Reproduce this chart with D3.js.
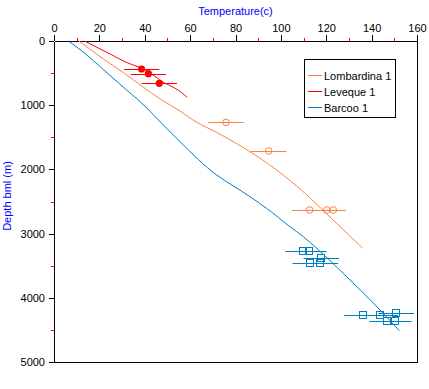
<!DOCTYPE html>
<html>
<head>
<meta charset="utf-8">
<script src="https://cdn.jsdelivr.net/npm/d3@7"></script>
<style>
  body { margin: 0; background: #fff; }
  svg { font-family: "Liberation Sans", Arial, sans-serif; }
  .axis path, .axis line { stroke: #000; shape-rendering: crispEdges; }
  .minor line { stroke: #ff0000; }
  .minor path { display: none; }
</style>
</head>
<body>
<svg id="chart" width="429" height="389"></svg>
<script>
// well names and colours
var wells = ["Lombardina 1", "Leveque 1", "Barcoo 1"];
var wellColors = ["#ff8040", "#ff0000", "#0080c0"];

// modelled temperature profiles: temperature (C), depth (m)
var lombardinaTemp = [11, 22, 31, 47.3, 55.5, 63, 72, 86.4, 101, 108, 117.2, 125, 134.9, 136.1];
var lombardinaDepth = [0, 285, 503, 914, 1090, 1267, 1430, 1724, 2087, 2290, 2591, 2855, 3188, 3229];

var levequeTemp = [13.5, 25.3, 32.6, 38.5, 44.4, 48.8, 53.2, 58.7];
var levequeDepth = [0, 213, 343, 421, 550, 654, 732, 877];

var barcooTemp = [6.3, 10.6, 23.8, 32, 37, 50, 57, 71.7, 86.4, 93.7, 104, 109.9, 115.8, 129, 135.4, 143.7, 152.2];
var barcooDepth = [0, 110, 509, 763, 914, 1375, 1620, 2087, 2425, 2606, 2892, 3048, 3229, 3671, 3894, 4190, 4512];

// measured temperatures with error
var levequeObsTemp = [38.6, 41.6, 46.4];
var levequeObsDepth = [436, 509, 659];
var levequeObsErr = [7.8, 7.8, 7.8];

var lombardinaObsTemp = [75.8, 94.6, 112.7, 120.2, 123.1];
var lombardinaObsDepth = [1267, 1713, 2632, 2632, 2632];
var lombardinaObsErr = [7.8, 7.8, 7.8, 7.8, 5.5];

var barcooObsTemp = [109.7, 112.4, 117.8, 113, 117.4, 136.1, 143.8, 150.9, 146.9, 150.1];
var barcooObsDepth = [3276, 3276, 3375, 3463, 3463, 4273, 4273, 4232, 4366, 4366];
var barcooObsErr = [7.8, 7.8, 7.8, 7.8, 7.8, 8.2, 7.8, 7.8, 8, 7.5];

// axis ticks
var tempTicks = [0, 20, 40, 60, 80, 100, 120, 140, 160];
var tempMinor = [10, 30, 50, 70, 90, 110, 130, 150];
var depthTicks = [0, 1000, 2000, 3000, 4000, 5000];
var depthMinor = [500, 1500, 2500, 3500, 4500];

var svg = d3.select("#chart");
var plotL = 54, plotR = 417, plotT = 41, plotB = 362;

var x = d3.scaleLinear().domain([0, 160]).range([plotL, plotR]);
var y = d3.scaleLinear().domain([0, 5000]).range([plotT, plotB]);

function zip(t, d) {
	return t.map(function (v, i) { return [v, d[i]]; });
}

// frame (right and bottom sides)
svg.append("path")
	.attr("d", "M" + plotL + "," + (plotB + 0.5) + "H" + (plotR + 0.5) + "V" + plotT)
	.attr("fill", "none")
	.attr("stroke", "#000")
	.attr("shape-rendering", "crispEdges");

// top axis
svg.append("g")
	.attr("class", "axis")
	.attr("transform", "translate(0," + plotT + ")")
	.call(d3.axisTop(x).tickValues(tempTicks).tickSize(6).tickSizeOuter(0).tickPadding(3))
	.call(function (g) { g.selectAll("text").attr("font-size", 11).attr("fill", "#000"); g.attr("font-family", null); });

svg.append("g")
	.attr("class", "axis minor")
	.attr("transform", "translate(0," + plotT + ")")
	.call(d3.axisTop(x).tickValues(tempMinor).tickSize(3).tickFormat(""));

// left axis
svg.append("g")
	.attr("class", "axis")
	.attr("transform", "translate(" + plotL + ",0)")
	.call(d3.axisLeft(y).tickValues(depthTicks).tickFormat(d3.format("d")).tickSize(5).tickSizeOuter(0).tickPadding(4))
	.call(function (g) { g.selectAll("text").attr("font-size", 11).attr("fill", "#000"); g.attr("font-family", null); });

svg.append("g")
	.attr("class", "axis minor")
	.attr("transform", "translate(" + plotL + ",0)")
	.call(d3.axisLeft(y).tickValues(depthMinor).tickSize(3).tickFormat(""));

// axis titles
svg.append("text")
	.attr("x", (plotL + plotR) / 2)
	.attr("y", 15)
	.attr("text-anchor", "middle")
	.attr("font-size", 11)
	.attr("fill", "#0000ff")
	.text("Temperature(c)");

svg.append("text")
	.attr("transform", "translate(11,196) rotate(-90)")
	.attr("text-anchor", "middle")
	.attr("font-size", 11)
	.attr("fill", "#0000ff")
	.text("Depth bml (m)");

// profiles
var line = d3.line()
	.x(function (d) { return x(d[0]); })
	.y(function (d) { return y(d[1]); })
	.curve(d3.curveMonotoneY);

var profiles = [zip(lombardinaTemp, lombardinaDepth), zip(levequeTemp, levequeDepth), zip(barcooTemp, barcooDepth)];
profiles.forEach(function (p, i) {
	svg.append("path")
		.datum(p)
		.attr("d", line)
		.attr("fill", "none")
		.style("stroke", wellColors[i])
		.attr("stroke-width", 1);
});

// error bars
function errorBars(t, d, e, color) {
	svg.append("g").selectAll("path")
		.data(t.map(function (v, i) { return { t: v, d: d[i], e: e[i] }; }))
		.enter()
		.append("path")
		.attr("d", function (o) {
			var yy = Math.round(y(o.d)) + 0.5;
			return "M" + x(o.t - o.e) + "," + yy + "H" + x(o.t + o.e);
		})
		.attr("fill", "none")
		.style("stroke", color)
		.style("stroke-width", "1px");
}

errorBars(levequeObsTemp, levequeObsDepth, levequeObsErr, wellColors[1]);
errorBars(lombardinaObsTemp, lombardinaObsDepth, lombardinaObsErr, wellColors[0]);
errorBars(barcooObsTemp, barcooObsDepth, barcooObsErr, wellColors[2]);

// Leveque: filled circles
svg.append("g").selectAll("circle")
	.data(zip(levequeObsTemp, levequeObsDepth))
	.enter()
	.append("circle")
	.attr("cx", function (d) { return x(d[0]); })
	.attr("cy", function (d) { return y(d[1]); })
	.attr("r", 3.6)
	.style("fill", wellColors[1]);

// Lombardina: open circles
svg.append("g").selectAll("circle")
	.data(zip(lombardinaObsTemp, lombardinaObsDepth))
	.enter()
	.append("circle")
	.attr("cx", function (d) { return x(d[0]); })
	.attr("cy", function (d) { return y(d[1]); })
	.attr("r", 3.3)
	.attr("fill", "none")
	.style("stroke", wellColors[0])
	.attr("stroke-width", 1);

// Barcoo: open squares
svg.append("g").selectAll("rect")
	.data(zip(barcooObsTemp, barcooObsDepth))
	.enter()
	.append("rect")
	.attr("x", function (d) { return Math.round(x(d[0]) - 4) + 0.5; })
	.attr("y", function (d) { return Math.round(y(d[1]) - 4) + 0.5; })
	.attr("width", 7)
	.attr("height", 7)
	.attr("fill", "none")
	.style("stroke", wellColors[2])
	.attr("stroke-width", 1.2)
	.attr("shape-rendering", "crispEdges");

// legend
var legend = svg.append("g");
legend.append("rect")
	.attr("x", 304.5).attr("y", 59.5)
	.attr("width", 91).attr("height", 58)
	.attr("fill", "#fff")
	.attr("stroke", "#000")
	.attr("shape-rendering", "crispEdges");

wells.forEach(function (w, i) {
	var ly = 75.5 + i * 16;
	legend.append("path")
		.attr("d", "M308," + ly + "H322")
		.style("stroke", wellColors[i])
		.style("stroke-width", "1px");
	legend.append("text")
		.attr("x", 324).attr("y", ly + 4)
		.attr("font-size", 11)
		.attr("fill", "#000")
		.text(w);
});
</script>
</body>
</html>
